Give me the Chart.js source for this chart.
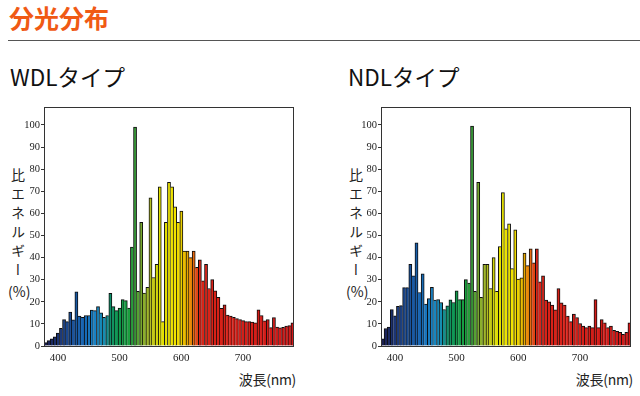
<!DOCTYPE html>
<html>
<head>
<meta charset="utf-8">
<script src="https://cdn.jsdelivr.net/npm/chart.js@4"></script>
<style>
  body { margin: 0; width: 640px; height: 396px; background: #fff; position: relative; overflow: hidden;
         font-family: "Noto Sans CJK JP", "Noto Sans", sans-serif; }
  .abs { position: absolute; white-space: nowrap; }
  #title { left: 9px; top: -1px; font-size: 25px; font-weight: bold; color: #f05a14; }
  #rule { left: 8px; top: 40px; width: 632px; height: 1px; background: #555; }
  .sub { font-size: 22.5px; color: #111; top: 60px; }
  .ytitle { font-size: 14px; color: #222; writing-mode: vertical-rl; text-orientation: upright;
            letter-spacing: 5px; line-height: 16px; top: 168px; }
  .ypct { font-size: 14px; color: #222; top: 281px; }
  .xtitle { font-size: 14px; color: #222; top: 369px; letter-spacing: -0.3px; }
</style>
</head>
<body>
<div id="title" class="abs">分光分布</div>
<div id="rule" class="abs"></div>
<div class="abs sub" style="left:10px">WDLタイプ</div>
<div class="abs sub" style="left:348px">NDLタイプ</div>

<div class="abs ytitle" style="left:10px">比エネルギー</div>
<div class="abs ypct" style="left:8px">(%)</div>
<div class="abs ytitle" style="left:348px">比エネルギー</div>
<div class="abs ypct" style="left:346px">(%)</div>

<div class="abs xtitle" style="right:344px">波長(nm)</div>
<div class="abs xtitle" style="right:7px">波長(nm)</div>

<div class="abs" style="left:0; top:100px"><canvas id="wdl" width="320" height="296"></canvas></div>
<div class="abs" style="left:337px; top:100px"><canvas id="ndl" width="303" height="296"></canvas></div>

<script>
// wavelength of each bar (nm)
const wavelengths = [
  380, 385, 390, 395, 400, 405, 410, 415, 420, 425, 430, 435, 440, 445, 450, 455, 460, 465, 470, 475,
  480, 485, 490, 495, 500, 505, 510, 515, 520, 525, 530, 535, 540, 545, 550, 555, 560, 565, 570, 575,
  580, 585, 590, 595, 600, 605, 610, 615, 620, 625, 630, 635, 640, 645, 650, 655, 660, 665, 670, 675,
  680, 685, 690, 695, 700, 705, 710, 715, 720, 725, 730, 735, 740, 745, 750, 755, 760, 765, 770, 775,
  780
];

const wdlValues = [
  1.5, 2.4, 3.2, 4.2, 5.8, 8, 12, 11, 15.3, 11.8, 24.5, 13.5, 13, 13.8, 13.8, 16.3, 16, 17.8, 15, 13,
  13.8, 23.8, 17.8, 16, 17.2, 21, 20.5, 17.2, 44.7, 99, 24.7, 56, 24, 26.5, 67, 31, 37, 72, 11, 56,
  74, 72, 63, 56, 61, 43, 43, 40, 43, 35.6, 39, 29.5, 37, 26, 30, 25, 22, 17, 18.6, 14,
  13.5, 13, 12.4, 12, 11.5, 11, 11, 10.8, 10.5, 16.4, 13.8, 11.4, 12, 8.3, 12.9, 8.6, 8.2, 8.5, 9, 9.2,
  10.5
];

const ndlValues = [
  3.3, 7.9, 8.6, 16.5, 13.6, 18, 18.3, 26.4, 26.4, 37, 31.8, 46.7, 24.2, 32.6, 19, 21.4, 26.5, 20.8, 21, 19.7,
  16.5, 18.2, 20.9, 19.7, 25, 21, 21, 30, 28.5, 99.5, 24.7, 74, 22, 37, 37, 26, 40, 24.7, 45, 69.4,
  53, 55.3, 35, 52.6, 30.3, 30.8, 42, 36.4, 44, 37.6, 44, 29, 31.8, 20.8, 20, 18.5, 16.4, 26, 19.5, 18.5,
  13.5, 11, 14.4, 12.9, 10.2, 9, 8.3, 9, 8.3, 21, 8.3, 12, 10.5, 8.3, 9, 7.1, 6.6, 6.2, 5.3, 6.2,
  10.5
];

const xTickLabels = [400, 500, 600, 700];
const yTickLabels = [0, 10, 20, 30, 40, 50, 60, 70, 80, 90, 100];
const yMax = 108;

// spectrum colour stops (nm, colour)
const colorStops = [
  [380, '#1b1f52'], [400, '#1b3474'], [420, '#1a4d96'], [440, '#1865b2'], [460, '#1782c6'],
  [475, '#168eb2'], [485, '#10906a'], [500, '#129a4c'], [515, '#1aa03e'], [525, '#369a36'],
  [535, '#78a830'], [550, '#b4be22'], [565, '#e0e000'], [590, '#f2e400'], [600, '#ecd000'],
  [610, '#eaa800'], [620, '#e86a10'], [630, '#da2418'], [780, '#d21818']
];

function hexRgb(h) {
  return [1, 3, 5].map(i => parseInt(h.slice(i, i + 2), 16));
}

function spectrumColor(nm) {
  for (let i = 0; i < colorStops.length - 1; i++) {
    const [a, ca] = colorStops[i];
    const [b, cb] = colorStops[i + 1];
    if (nm >= a && nm <= b) {
      const t = (nm - a) / (b - a);
      const A = hexRgb(ca), B = hexRgb(cb);
      const c = A.map((v, k) => Math.round(v + (B[k] - v) * t));
      return `rgb(${c[0]},${c[1]},${c[2]})`;
    }
  }
  return colorStops[colorStops.length - 1][1];
}

// outline around the plot area
const framePlugin = {
  id: 'frame',
  afterDatasetsDraw(chart) {
    const { ctx, chartArea: a } = chart;
    ctx.save();
    ctx.strokeStyle = '#333';
    ctx.lineWidth = 1;
    ctx.strokeRect(Math.round(a.left) + 0.5, Math.round(a.top) + 0.5,
                   Math.round(a.right - a.left) - 1, Math.round(a.bottom - a.top));
    ctx.restore();
  }
};

function makeChart(id, values, rightPad) {
  const ctx = document.getElementById(id).getContext('2d');
  return new Chart(ctx, {
    type: 'bar',
    data: {
      labels: wavelengths,
      datasets: [{
        data: values,
        backgroundColor: wavelengths.map(spectrumColor),
        borderColor: '#0d0d0d',
        // shared edge between neighbours is drawn by the taller bar only
        borderWidth: c => {
          const i = c.dataIndex;
          const v = values[i];
          const left = (i === 0 || v >= values[i - 1]) ? 1 : 0;
          const right = (i === values.length - 1 || v > values[i + 1]) ? 1 : 0;
          return { left, right, top: 1, bottom: 0 };
        },
        borderSkipped: 'bottom',
        categoryPercentage: 1,
        barPercentage: 1
      }]
    },
    options: {
      responsive: false,
      animation: false,
      events: [],
      layout: { padding: { top: 7, right: rightPad, left: 0, bottom: 0 } },
      plugins: { legend: { display: false }, tooltip: { enabled: false } },
      scales: {
        x: {
          type: 'category',
          grid: { display: false },
          border: { display: false },
          ticks: {
            autoSkip: false,
            maxRotation: 0,
            padding: -2,
            color: '#222',
            font: { family: 'Liberation Serif', size: 11 }
          },
          afterBuildTicks: s => {
            s.ticks = s.ticks.filter(t => xTickLabels.includes(wavelengths[t.value]));
          },
          afterFit: s => { s.height = 50; }
        },
        y: {
          min: 0,
          max: yMax,
          grid: { drawOnChartArea: false, tickLength: 3, color: '#333' },
          border: { display: false },
          ticks: {
            padding: 1,
            color: '#222',
            font: { family: 'Liberation Serif', size: 10.5 }
          },
          afterBuildTicks: s => {
            s.ticks = yTickLabels.map(v => ({ value: v }));
          },
          afterFit: s => { s.width = 44; }
        }
      }
    },
    plugins: [framePlugin]
  });
}

makeChart('wdl', wdlValues, 26);
makeChart('ndl', ndlValues, 9);
</script>
</body>
</html>
